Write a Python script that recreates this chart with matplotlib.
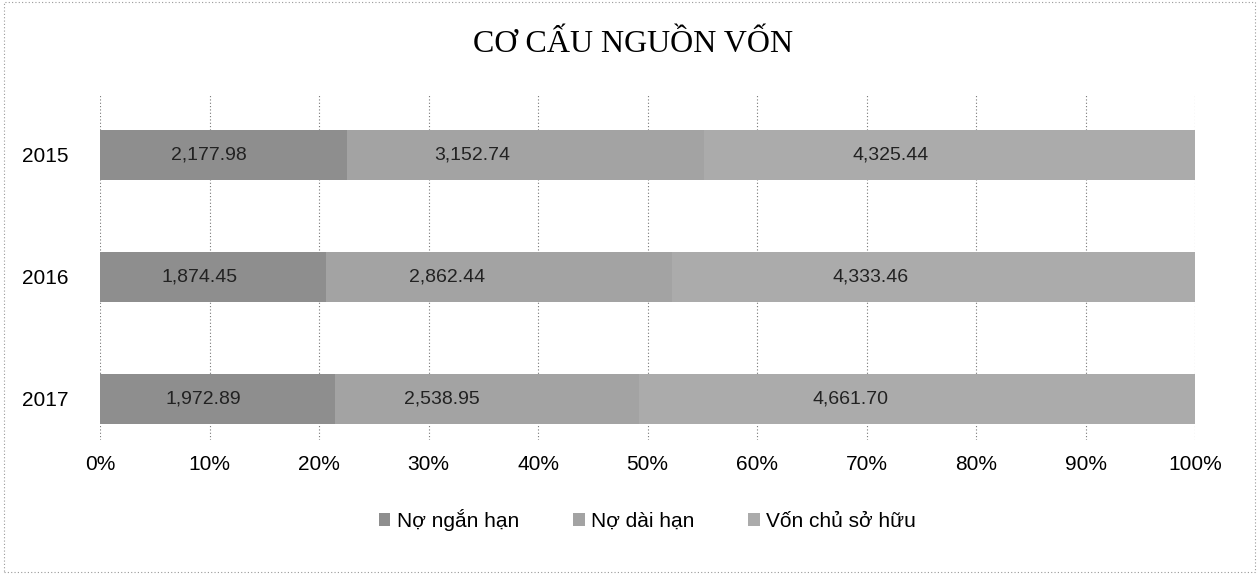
import matplotlib
matplotlib.use("Agg")
import matplotlib.pyplot as plt
import numpy as np
from matplotlib.patches import Rectangle
from matplotlib.ticker import PercentFormatter

years = ['2015', '2016', '2017']
series = ['Nợ ngắn hạn', 'Nợ dài hạn', 'Vốn chủ sở hữu']
no_ngan_han = [2177.98, 1874.45, 1972.89]
no_dai_han = [3152.74, 2862.44, 2538.95]
von_chu_so_huu = [4325.44, 4333.46, 4661.70]
colors = ['#8e8e8e', '#a3a3a3', '#ababab']
# where the value label sits inside each segment (fraction of its width)
label_frac = [0.44, 0.35, 0.38]

plt.rcParams['font.family'] = ['Liberation Sans', 'DejaVu Sans']

values = np.array([no_ngan_han, no_dai_han, von_chu_so_huu])
totals = values.sum(axis=0)
shares = values / totals

fig = plt.figure(figsize=(12.59, 5.74), dpi=100)
ax = fig.add_axes([100 / 1259, 1 - 440 / 574, 1095 / 1259, 345 / 574])

y = np.arange(len(years))
left = np.zeros(len(years))
for i, name in enumerate(series):
    ax.barh(y, shares[i], left=left, height=0.41, color=colors[i],
            label=name, zorder=2)
    for j in range(len(years)):
        ax.text(left[j] + shares[i][j] * label_frac[i], y[j],
                '{:,.2f}'.format(values[i][j]),
                ha='center', va='center', fontsize=14, color='#222222',
                zorder=3)
    left += shares[i]

ax.set_xlim(0, 1)
ax.set_ylim(2.34, -0.49)
ax.set_yticks(y)
ax.set_yticklabels(years, fontsize=15)
ax.set_xticks(np.arange(0, 1.01, 0.1))
ax.xaxis.set_major_formatter(PercentFormatter(1.0, decimals=0))
ax.tick_params(axis='x', labelsize=15, length=0, pad=11)
ax.tick_params(axis='y', length=0, pad=23)
ax.grid(axis='x', color='#777777', linestyle=(0, (1, 2)), linewidth=0.8,
        zorder=0)
for spine in ax.spines.values():
    spine.set_visible(False)

fig.text(633 / 1259, 1 - 45 / 574, 'CƠ CẤU NGUỒN VỐN', ha='center',
         va='center', fontsize=23, family=['Liberation Serif', 'DejaVu Serif'])

ax.legend(loc='center', bbox_to_anchor=(0.5, -0.232), ncol=3, frameon=False,
          fontsize=15, handlelength=0.55, handleheight=0.55,
          handletextpad=0.3, columnspacing=2.6)

fig.patches.append(Rectangle((0.003, 0.003), 0.994, 0.994,
                             transform=fig.transFigure, fill=False,
                             edgecolor='#999999', linestyle=(0, (1, 2)),
                             linewidth=0.8))

fig.savefig('out.png', dpi=100)
